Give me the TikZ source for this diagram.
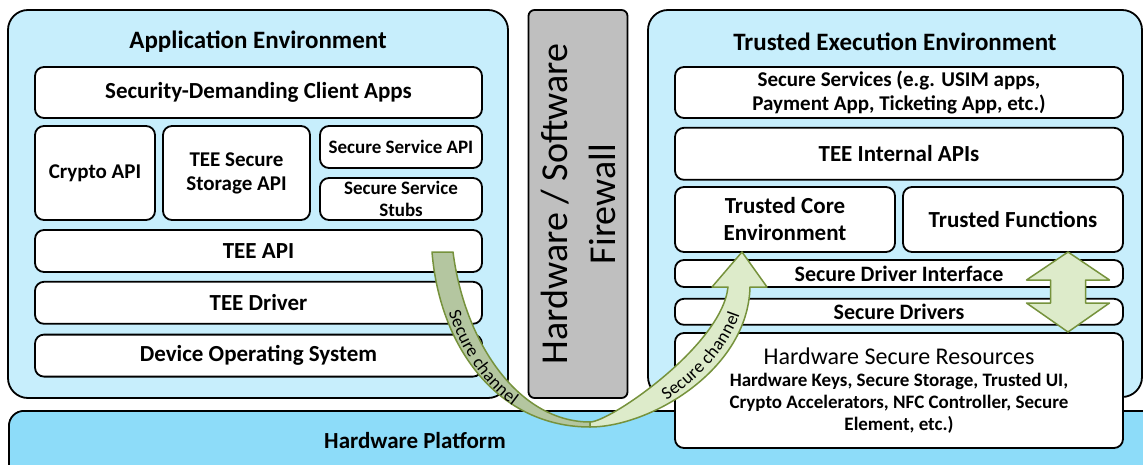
\documentclass[tikz,border=0pt]{standalone}
\usepackage{fontspec}
\setmainfont{Carlito}
\usetikzlibrary{positioning, calc, decorations.text}
\definecolor{envblue}{HTML}{C7EEFC}
\definecolor{hwblue}{HTML}{8DDCF9}
\definecolor{wallgray}{HTML}{BFBFBF}
\definecolor{chline}{HTML}{76923C}
\definecolor{chdark}{HTML}{B4C6A0}
\definecolor{chlight}{HTML}{DDEBCA}

\begin{document}
\begin{tikzpicture}[
  x=1pt, y=-1pt,
  env/.style={draw, line width=1.8pt, fill=envblue, rounded corners=20pt, inner sep=0pt},
  title/.style={font=\fontsize{25}{29}\selectfont\bfseries},
  layer/.style={draw, line width=1.8pt, fill=white, rounded corners=9pt, align=center,
                inner sep=0pt, font=\fontsize{23}{27}\selectfont\bfseries},
  mid/.style={layer, font=\fontsize{21}{24}\selectfont\bfseries},
  slim/.style={layer, font=\fontsize{19}{22}\selectfont\bfseries},
  wide/.style={minimum width=447pt, minimum height=42pt},
  chan/.style={draw=chline, line width=1.5pt, line join=round},
  chtext/.style={decorate, decoration={text along path, raise=-6pt,
                 text={|\fontsize{18}{18}\selectfont|Secure channel}, text align={#1}}}
]
\useasboundingbox (0,0) rectangle (1143,465);
\clip (0,0) rectangle (1143,465);

% platform underneath everything
\node[draw, line width=1.8pt, fill=hwblue, rounded corners=15pt, anchor=north west,
      minimum width=1160pt, minimum height=80pt] (hwplatform) at (8,410) {};
\node[font=\fontsize{23}{27}\selectfont\bfseries] (hwlabel) at (415,441) {Hardware Platform};

% normal world
\node[env, minimum width=500pt, minimum height=388pt] (appenv) at (258,204) {};
\node[title] (apptitle) at (258,42) {Application Environment};
\node[layer, minimum width=447pt, minimum height=51pt] (clientapps) at (258.5,92.5) {Security-Demanding Client Apps};
\node[mid, minimum width=120pt, minimum height=94pt] (cryptoapi) at (95,173) {Crypto API};
\node[mid, minimum width=147pt, minimum height=94pt] (storageapi) at (236.5,173) {TEE Secure\\Storage API};
\node[slim, minimum width=162pt, minimum height=42pt] (svcapi) at (401,147) {Secure Service API};
\node[slim, minimum width=162pt, minimum height=42pt] (svcstubs) at (401,199) {Secure Service\\Stubs};
\node[layer, wide] (teeapi) at (258.5,251) {TEE API};
\node[layer, wide, below=8pt of teeapi] (teedriver) {TEE Driver};
\node[layer, wide, below=9pt of teedriver] (devos) {Device Operating System};

% firewall
\node[draw, line width=1.8pt, fill=wallgray, rounded corners=6pt, rotate=90, align=center,
      minimum width=388pt, minimum height=99pt, font=\fontsize{38}{48}\selectfont] (firewall)
  at (578,204) {Hardware / Software\\Firewall};

% secure world
\node[env, minimum width=494pt, minimum height=387pt] (teeenv) at (895,203.5) {};
\node[title] (teetitle) at (895,42) {Trusted Execution Environment};
\node[mid, minimum width=448pt, minimum height=51pt] (secsvc) at (899,92.5)
  {Secure Services (e.g. USIM apps,\\Payment App, Ticketing App, etc.)};
\node[layer, minimum width=448pt, minimum height=52pt, below=8pt of secsvc] (internal) {TEE Internal APIs};
\node[layer, minimum width=220pt, minimum height=65pt] (trustedcore) at (785,219.5) {Trusted Core\\Environment};
\node[layer, minimum width=220pt, minimum height=65pt] (trustedfn) at (1013,219.5) {Trusted Functions};
\node[layer, minimum width=448pt, minimum height=27pt, font=\fontsize{22}{24}\selectfont\bfseries] (drvif) at (899,273.5) {Secure Driver Interface};
\node[layer, minimum width=448pt, minimum height=26pt, font=\fontsize{22}{24}\selectfont\bfseries, below=10pt of drvif] (drivers) {Secure Drivers};
\node[slim, minimum width=448pt, minimum height=115pt] (hwres) at (899,390.5)
  {{\fontsize{24}{28}\mdseries\selectfont Hardware Secure Resources}\\
   Hardware Keys, Secure Storage, Trusted UI,\\
   Crypto Accelerators, NFC Controller, Secure\\
   Element, etc.)};

% two-way link between functions and hardware resources
\coordinate (dtop) at (1068,252);
\coordinate (dbot) at (1068,332);
\draw[chan, fill=chlight] (dtop) -- ++(41.5,28) -- ++(-24,0) -- ++(0,23) -- ++(24,0) -- (dbot)
  -- ++(-41.5,-29) -- ++(24,0) -- ++(0,-23) -- ++(-24,0) -- cycle;

% secure channel from TEE API down under the firewall and up to the core
\coordinate (chin) at (432,252);
\coordinate (chlow) at (590,427);
\coordinate (chtip) at (742,252);
\draw[chan, fill=chdark] (chin) .. controls (440,350) and (500,427) .. (chlow)
  -- (590,422) .. controls (520,422) and (465,345) .. (453,252) -- cycle;
\draw[chan, fill=chlight] (chlow) .. controls (650,427) and (748,370) .. (750,287)
  -- (767,287) -- (chtip) -- (712,287) -- (728,287)
  .. controls (722,345) and (610,422) .. (590,422) -- cycle;
\path[chtext={left, left indent=60pt}] (442,252) .. controls (451,348) and (508,425) .. (590,425);
\path[chtext={right, right indent=26pt}] (590,425) .. controls (636,425) and (737,358) .. (739,287);
\end{tikzpicture}
\end{document}
